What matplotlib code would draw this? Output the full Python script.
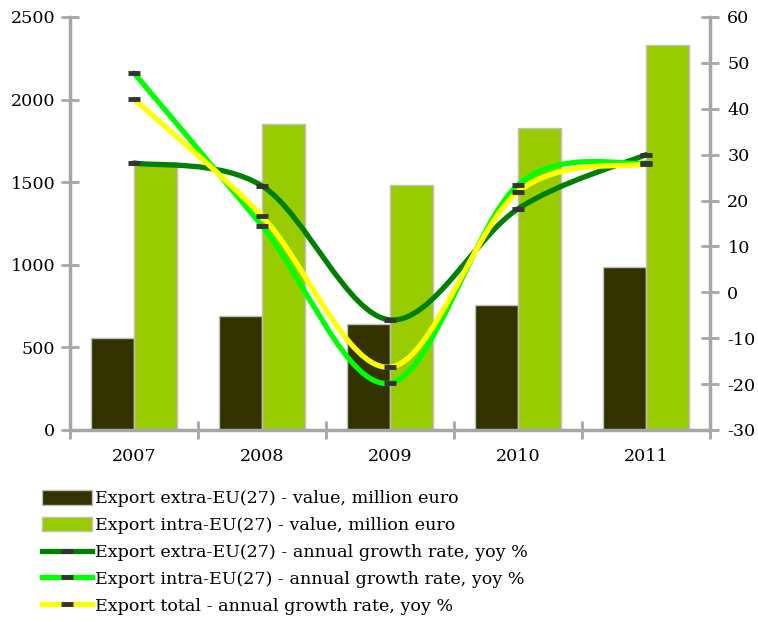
import numpy as np
import matplotlib
matplotlib.use("Agg")
import matplotlib.pyplot as plt
from matplotlib.path import Path
from matplotlib.patches import PathPatch, Patch
from matplotlib.lines import Line2D

years = ["2007", "2008", "2009", "2010", "2011"]

# values, million euro (left axis)
extra_value = [557, 690, 642, 757, 987]
intra_value = [1622, 1852, 1483, 1828, 2330]

# annual growth rate, yoy % (right axis)
extra_growth = [28.2, 23.2, -6.0, 18.2, 30.0]
intra_growth = [47.8, 14.5, -19.8, 23.4, 28.2]
total_growth = [42.1, 16.6, -16.3, 21.9, 28.0]

labels = [
    "Export extra-EU(27) - value, million euro",
    "Export intra-EU(27) - value, million euro",
    "Export extra-EU(27) - annual growth rate, yoy %",
    "Export intra-EU(27) - annual growth rate, yoy %",
    "Export total - annual growth rate, yoy %",
]

c_extra_bar = "#333300"
c_intra_bar = "#99CC00"
c_extra_line = "#008000"
c_intra_line = "#00FF00"
c_total_line = "#FFFF00"
c_axis = "#A6A6A6"
c_mark = "#333333"

plt.rcParams["font.family"] = ["DejaVu Serif"]
plt.rcParams["font.size"] = 12
plt.rcParams["axes.unicode_minus"] = False


def smooth_path(xs, ys):
    # Excel-style smoothed line: Catmull-Rom segments as cubic Beziers
    pts = np.column_stack([xs, ys]).astype(float)
    n = len(pts)
    verts = [pts[0]]
    codes = [Path.MOVETO]
    for i in range(n - 1):
        p0 = pts[i - 1] if i > 0 else pts[i]
        p1 = pts[i]
        p2 = pts[i + 1]
        p3 = pts[i + 2] if i + 2 < n else pts[i + 1]
        verts += [p1 + (p2 - p0) / 6.0, p2 - (p3 - p1) / 6.0, p2]
        codes += [Path.CURVE4] * 3
    return Path(verts, codes)


fig = plt.figure(figsize=(7.58, 6.22), dpi=100)
ax = fig.add_axes([70 / 758, 1 - 430 / 622, 640 / 758, 413 / 622])
ax2 = ax.twinx()

x = np.arange(len(years))
bw = 0.335
ax.bar(x - bw / 2, extra_value, bw, color=c_extra_bar, edgecolor="#BFBFBF", linewidth=1)
ax.bar(x + bw / 2, intra_value, bw, color=c_intra_bar, edgecolor="#BFBFBF", linewidth=1)

ax.set_xlim(-0.5, len(years) - 0.5)
ax.set_ylim(0, 2500)
ax.set_yticks(np.arange(0, 2501, 500))
ax2.set_ylim(-30, 60)
ax2.set_yticks(np.arange(-30, 61, 10))

for series, col in [(extra_growth, c_extra_line), (intra_growth, c_intra_line), (total_growth, c_total_line)]:
    ax2.add_patch(PathPatch(smooth_path(x, series), facecolor="none", edgecolor=col,
                            linewidth=3.8, capstyle="round", zorder=3))
    ax2.plot(x, series, linestyle="none", marker="_", markersize=9,
             markeredgewidth=3.5, color=c_mark, zorder=4)

# category boundary ticks on x axis
ax.set_xticks(np.arange(-0.5, len(years), 1.0))
ax.set_xticklabels([])
ax.set_xticks(x, minor=True)
ax.set_xticklabels(years, minor=True)
ax.tick_params(axis="x", which="major", direction="inout", length=13, width=2, color=c_axis)
ax.tick_params(axis="x", which="minor", length=0, pad=13, labelsize=12.6)

ax.tick_params(axis="y", direction="inout", length=13, width=2, color=c_axis, labelsize=12.6, pad=4)
ax2.tick_params(axis="y", direction="inout", length=13, width=2, color=c_axis, labelsize=12.6, pad=6)

for a in (ax, ax2):
    a.spines["top"].set_visible(False)
    for s in ("left", "right", "bottom"):
        a.spines[s].set_color(c_axis)
        a.spines[s].set_linewidth(2.5)
ax.spines["right"].set_visible(False)
ax2.spines["left"].set_visible(False)
ax2.spines["bottom"].set_visible(False)

handles = [
    Patch(facecolor=c_extra_bar, edgecolor="#BFBFBF"),
    Patch(facecolor=c_intra_bar, edgecolor="#BFBFBF"),
    Line2D([], [], color=c_extra_line, linewidth=3.8, marker="_", markersize=9,
           markeredgewidth=3.5, markeredgecolor=c_mark),
    Line2D([], [], color=c_intra_line, linewidth=3.8, marker="_", markersize=9,
           markeredgewidth=3.5, markeredgecolor=c_mark),
    Line2D([], [], color=c_total_line, linewidth=3.8, marker="_", markersize=9,
           markeredgewidth=3.5, markeredgecolor=c_mark),
]
fig.legend(handles, labels, loc="upper left", bbox_to_anchor=(35 / 758, 1 - 483 / 622),
           frameon=False, fontsize=12.6, handlelength=2.85, handleheight=0.9,
           handletextpad=0.2, labelspacing=0.55, borderaxespad=0)

plt.savefig("out.png", dpi=100)
